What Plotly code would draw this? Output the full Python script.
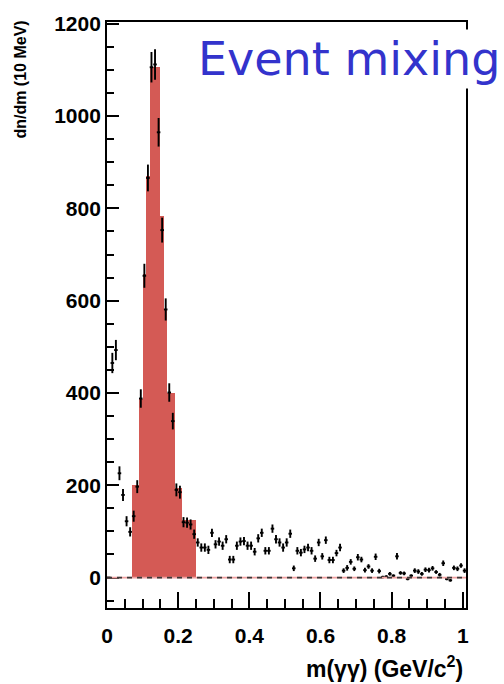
import numpy as np
import plotly.graph_objects as go

# ---- data (10 MeV bins, 0 - 1.01 GeV/c^2) ----
bin_centers = [round(0.005 + 0.01 * i, 3) for i in range(101)]
counts = [0, 465, 493, 226, 179, 122, 99, 133, 197, 388,
          654, 866, 1106, 1112, 965, 753, 581, 401, 339, 190,
          185, 120, 119, 115, 94, 76, 65, 65, 60, 97,
          72, 78, 69, 83, 39, 39, 69, 78, 79, 69,
          69, 56, 85, 97, 58, 58, 106, 83, 76, 65,
          76, 95, 20, 58, 54, 61, 65, 58, 41, 76,
          46, 81, 38, 38, 53, 65, 15, 21, 34, 19,
          44, 39, 16, 24, 15, 45, 14, 1, 2, 8,
          4, 46, 10, 9, -3, 4, 15, 13, 8, 17,
          16, 20, 12, 6, 31, -3, -6, 21, 19, 26,
          15]
errors = [0, 22, 22, 15, 13, 11, 10, 12, 14, 20,
          26, 29, 33, 33, 31, 27, 24, 20, 18, 14,
          14, 11, 11, 11, 10, 9, 9, 9, 9, 9,
          9, 9, 9, 9, 8, 8, 9, 9, 9, 9,
          9, 8, 9, 9, 8, 8, 9, 9, 9, 9,
          9, 9, 6, 8, 8, 8, 8, 8, 7, 8,
          7, 8, 7, 7, 7, 8, 5, 6, 6, 5,
          7, 6, 5, 5, 5, 7, 5, 3, 3, 4,
          3, 7, 4, 4, 3, 3, 5, 5, 4, 5,
          5, 5, 4, 4, 6, 3, 3, 5, 5, 5,
          5]
half_width = [0.005] * 101

# signal histogram (filled red)
sig_centers = [0.075, 0.085, 0.095, 0.105, 0.115, 0.125, 0.135, 0.145, 0.155,
               0.165, 0.175, 0.185, 0.195, 0.205, 0.215, 0.225, 0.235, 0.245]
sig_counts = [200, 200, 386, 657, 870, 1106, 1106, 1106, 783,
              579, 401, 401, 193, 193, 125, 125, 125, 125]

x_ticks = [0, 0.2, 0.4, 0.6, 0.8, 1]
x_tick_text = ["0", "0.2", "0.4", "0.6", "0.8", "1"]
y_ticks = [0, 200, 400, 600, 800, 1000, 1200]

fig = go.Figure()

fig.add_trace(go.Bar(
    x=sig_centers, y=sig_counts, width=0.01,
    marker=dict(color="#d45a55", line=dict(width=0)),
    showlegend=False, hoverinfo="skip"))

fig.add_trace(go.Scatter(
    x=bin_centers, y=counts, mode="markers",
    marker=dict(size=1, color="black"),
    error_y=dict(type="data", array=errors, visible=True, width=0,
                 thickness=1.9, color="black"),
    error_x=dict(type="data", array=half_width, visible=True, width=0,
                 thickness=1.9, color="black"),
    showlegend=False))

# zero reference line (pink with dark dashes)
fig.add_hline(y=0, line=dict(color="#f0a0a0", width=1.8), layer="above")
fig.add_hline(y=0, line=dict(color="#3a3a3a", width=1.8, dash="5px,5px"), layer="above")

tick_font = dict(family="Liberation Sans", size=21, color="black", weight="bold")

fig.update_layout(
    width=504, height=684,
    margin=dict(l=107, r=37.5, t=15, b=76),
    paper_bgcolor="white", plot_bgcolor="white",
    bargap=0,
    xaxis=dict(range=[0, 1.009], tickvals=x_ticks, ticktext=x_tick_text,
               ticks="inside", ticklen=16, tickwidth=1.5, tickcolor="black",
               minor=dict(dtick=0.05, ticks="inside", ticklen=9, tickwidth=1.5,
                          tickcolor="black", tick0=0),
               showline=True, linecolor="black", linewidth=1.8, mirror=True,
               showgrid=False, zeroline=False, tickfont=tick_font,
               ticklabelstandoff=8),
    yaxis=dict(range=[-66, 1204], tickvals=y_ticks,
               ticks="inside", ticklen=12, tickwidth=1.5, tickcolor="black",
               minor=dict(dtick=50, ticks="inside", ticklen=7, tickwidth=1.5,
                          tickcolor="black", tick0=0),
               showline=True, linecolor="black", linewidth=1.8, mirror=True,
               showgrid=False, zeroline=False, tickfont=tick_font),
)

fig.add_annotation(
    text="dn/dm (10 MeV)", xref="paper", yref="paper",
    x=-0.242, y=1.006, xanchor="center", yanchor="top", textangle=-90,
    showarrow=False,
    font=dict(family="Liberation Sans", size=16, color="black", weight="bold"))

fig.add_annotation(
    text="m(γγ) (GeV/c<sup>2</sup>)", xref="paper", yref="paper",
    x=0.997, y=-0.101, xanchor="right", yanchor="middle",
    showarrow=False,
    font=dict(family="Liberation Sans", size=23, color="black", weight="bold"))

fig.add_annotation(
    text="Event mixing", xref="paper", yref="paper",
    x=0.245, y=0.937, xanchor="left", yanchor="middle",
    showarrow=False, bgcolor="white", borderpad=2,
    font=dict(family="DejaVu Sans", size=46, color="#3333cc"))

fig.write_html("out.html")
